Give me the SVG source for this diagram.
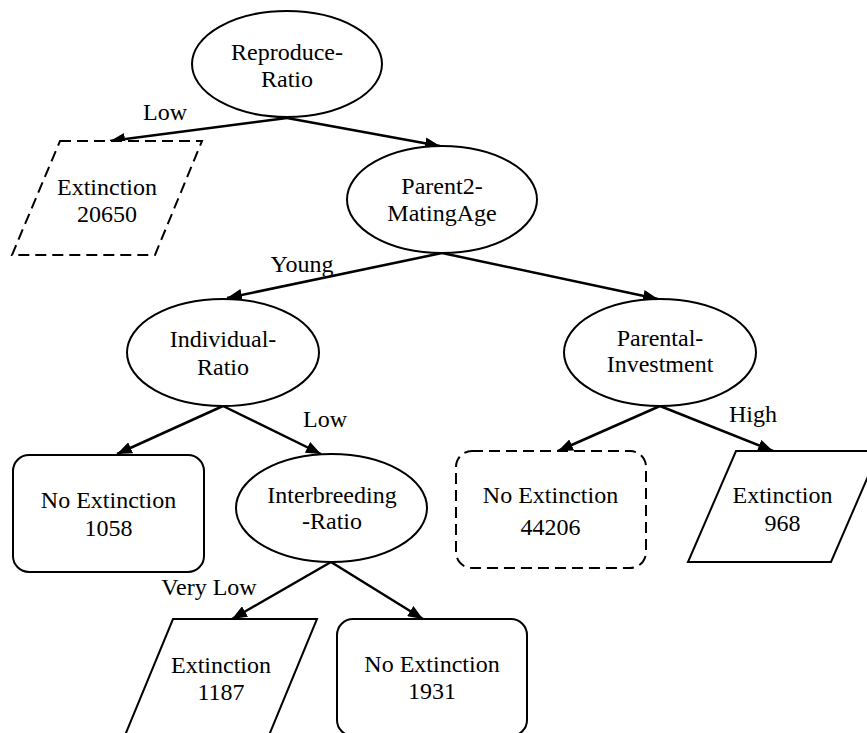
<svg xmlns="http://www.w3.org/2000/svg" width="867" height="733" viewBox="0 0 867 733">
<style>
.shape{fill:#fff;stroke:#000;stroke-width:2}
.dash{stroke-dasharray:11 6}
.edge{fill:none;stroke:#000;stroke-width:2.5}
text{font-family:'Liberation Serif','Times New Roman','DejaVu Serif',serif;font-size:24px;fill:#000;text-anchor:middle}
</style>
<defs>
<marker id="arr" markerUnits="userSpaceOnUse" markerWidth="16" markerHeight="12" refX="15" refY="6" orient="auto">
<path d="M0,0 L15,6 L0,12 Z" fill="#000"/>
</marker>
</defs>
<rect width="867" height="733" fill="#fff"/>
<g id="connectors">
<line class="edge" x1="287" y1="118" x2="110" y2="141" marker-end="url(#arr)"/>
<line class="edge" x1="287" y1="118" x2="440" y2="146" marker-end="url(#arr)"/>
<line class="edge" x1="442" y1="253" x2="227" y2="298" marker-end="url(#arr)"/>
<line class="edge" x1="442" y1="253" x2="658" y2="299" marker-end="url(#arr)"/>
<line class="edge" x1="223" y1="406" x2="117" y2="454" marker-end="url(#arr)"/>
<line class="edge" x1="223" y1="406" x2="321" y2="454" marker-end="url(#arr)"/>
<line class="edge" x1="331" y1="562" x2="232" y2="619" marker-end="url(#arr)"/>
<line class="edge" x1="331" y1="562" x2="423" y2="619" marker-end="url(#arr)"/>
<line class="edge" x1="660" y1="406" x2="558" y2="451" marker-end="url(#arr)"/>
<line class="edge" x1="660" y1="406" x2="773" y2="451" marker-end="url(#arr)"/>
<text x="165" y="120" font-family="Liberation Serif, serif">Low</text>
<text x="302" y="272">Young</text>
<text x="325" y="427">Low</text>
<text x="209" y="595">Very Low</text>
<text x="753" y="422">High</text>
</g>
<g id="reproduce-ratio">
<ellipse class="shape" cx="287" cy="64" rx="95" ry="53"/>
<text x="287" y="60">Reproduce-</text>
<text x="287" y="87">Ratio</text>
</g>
<g id="extinction-20650">
<polygon class="shape dash" points="60,141 202,141 155,255 12,255"/>
<text x="107" y="195">Extinction</text>
<text x="107" y="222">20650</text>
</g>
<g id="parent2-matingage">
<ellipse class="shape" cx="442" cy="199.5" rx="95" ry="53.5"/>
<text x="442" y="194">Parent2-</text>
<text x="442" y="221">MatingAge</text>
</g>
<g id="individual-ratio">
<ellipse class="shape" cx="223" cy="352.5" rx="96" ry="53.5"/>
<text x="223" y="347">Individual-</text>
<text x="223" y="375">Ratio</text>
</g>
<g id="parental-investment">
<ellipse class="shape" cx="660" cy="352.5" rx="96" ry="53.5"/>
<text x="660" y="346">Parental-</text>
<text x="660" y="372">Investment</text>
</g>
<g id="no-extinction-1058">
<rect class="shape" x="13" y="455" width="191" height="117" rx="16" ry="16"/>
<text x="108.5" y="508">No Extinction</text>
<text x="108.5" y="536">1058</text>
</g>
<g id="interbreeding-ratio">
<ellipse class="shape" cx="331.5" cy="508" rx="95.5" ry="54"/>
<text x="332" y="503">Interbreeding</text>
<text x="332" y="529">-Ratio</text>
</g>
<g id="no-extinction-44206">
<rect class="shape dash" x="456" y="451" width="190" height="117" rx="16" ry="16"/>
<text x="550.5" y="503">No Extinction</text>
<text x="550.5" y="535">44206</text>
</g>
<g id="extinction-968">
<polygon class="shape" points="736,451 879,451 831,562 688,562"/>
<text x="782.5" y="503">Extinction</text>
<text x="782.5" y="531">968</text>
</g>
<g id="extinction-1187">
<polygon class="shape" points="173,619 317,619 265,745 121,745"/>
<text x="221" y="673">Extinction</text>
<text x="221" y="700">1187</text>
</g>
<g id="no-extinction-1931">
<rect class="shape" x="337" y="619" width="190" height="117" rx="16" ry="16"/>
<text x="432" y="672">No Extinction</text>
<text x="432" y="699">1931</text>
</g>
</svg>
